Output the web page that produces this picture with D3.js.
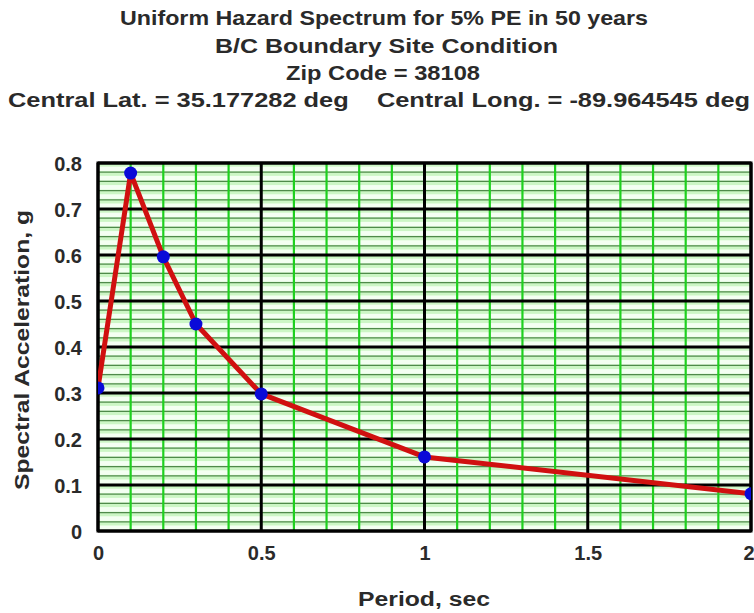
<!DOCTYPE html>
<html><head><meta charset="utf-8">
<script src="https://cdn.jsdelivr.net/npm/d3@7"></script>
<style>body{margin:0;background:#fff}svg{display:block}text{font-family:"Liberation Sans",Arial,sans-serif;font-weight:bold;fill:#2a2a2a;white-space:pre}</style>
</head><body>
<svg id="c" width="754" height="613"></svg>
<script>
const periods = [0, 0.1, 0.2, 0.3, 0.5, 1.0, 2.0];
const accel = [0.311, 0.778, 0.596, 0.45, 0.298, 0.161, 0.081];
const xTicks = [0, 0.5, 1, 1.5, 2];
const yTicks = [0, 0.1, 0.2, 0.3, 0.4, 0.5, 0.6, 0.7, 0.8];
const titleLines = ["Uniform Hazard Spectrum for 5% PE in 50 years", "B/C Boundary Site Condition", "Zip Code = 38108", "Central Lat. = 35.177282 deg    Central Long. = -89.964545 deg"];

const svg = d3.select("#c");
const L = 98, R = 751, T = 163, B = 531;
const x = d3.scaleLinear().domain([0, 2]).range([L, R]);
const y = d3.scaleLinear().domain([0, 0.8]).range([B, T]);

const minorY = d3.range(0, 0.8001, 0.02).map(v => +v.toFixed(2));
const g = svg.append("g");
g.append("rect").attr("x", L).attr("y", T).attr("width", R - L).attr("height", B - T).attr("fill", "#f2fff0");
minorY.slice(0, -1).forEach(v => {
  g.append("rect").attr("x", L).attr("width", R - L)
    .attr("y", y(v + 0.02)).attr("height", y(v) - y(v + 0.02))
    .attr("fill", "#c6f5bd").attr("opacity", 0.85);
  g.append("rect").attr("x", L).attr("width", R - L)
    .attr("y", y(v + 0.012)).attr("height", y(v + 0.002) - y(v + 0.012))
    .attr("fill", "#f4fff2");
});
g.selectAll(".mh").data(minorY.filter(v => Math.round(v * 100) % 10 !== 0)).enter().append("line")
  .attr("x1", L).attr("x2", R).attr("y1", d => y(d)).attr("y2", d => y(d))
  .attr("stroke", "#4f8a4a").attr("stroke-width", 1.2);
const minorX = d3.range(0, 2.0001, 0.1).map(v => +v.toFixed(1)).filter(v => Math.round(v * 10) % 5 !== 0);
g.selectAll(".mv").data(minorX).enter().append("line")
  .attr("x1", d => x(d)).attr("x2", d => x(d)).attr("y1", T).attr("y2", B)
  .attr("stroke", "#1fd01f").attr("stroke-width", 2.2);
g.selectAll(".Mh").data(yTicks).enter().append("line")
  .attr("x1", L).attr("x2", R).attr("y1", d => y(d)).attr("y2", d => y(d))
  .attr("stroke", "#000").attr("stroke-width", 3);
g.selectAll(".Mv").data(xTicks).enter().append("line")
  .attr("x1", d => x(d)).attr("x2", d => x(d)).attr("y1", T).attr("y2", B)
  .attr("stroke", "#000").attr("stroke-width", 3);
g.append("rect").attr("x", L).attr("y", T).attr("width", R - L).attr("height", B - T)
  .attr("fill", "none").attr("stroke", "#000").attr("stroke-width", 3);

const xa = svg.append("g").attr("transform", `translate(0,${B})`)
  .call(d3.axisBottom(x).tickValues(xTicks).tickFormat(d3.format("")).tickSize(0).tickPadding(12));
const ya = svg.append("g").attr("transform", `translate(${L},0)`)
  .call(d3.axisLeft(y).tickValues(yTicks).tickFormat(d => d === 0 ? "0" : d3.format(".1f")(d)).tickSize(0).tickPadding(16));
[xa, ya].forEach(a => { a.select(".domain").remove(); a.selectAll("text").attr("font-size", 20).attr("fill", "#2a2a2a").style("font-family", '"Liberation Sans",Arial,sans-serif').style("font-weight", "bold"); });
xa.selectAll("text").attr("dy", "0.85em").filter(d => d === 2).attr("text-anchor", "end").attr("dx", "0.15em");
ya.selectAll("text").attr("dy", "0.36em");

const clip = svg.append("clipPath").attr("id", "cp").append("rect").attr("x", L).attr("y", T - 20).attr("width", R - L).attr("height", B - T + 20);
svg.append("path").datum(periods.map((p, i) => [p, accel[i]]))
  .attr("d", d3.line().x(d => x(d[0])).y(d => y(d[1])))
  .attr("fill", "none").attr("stroke", "#d01010").attr("stroke-width", 5).attr("stroke-linejoin", "round")
  .attr("clip-path", "url(#cp)");
svg.selectAll(".pt").data(periods.map((p, i) => [p, accel[i]])).enter().append("circle")
  .attr("cx", d => x(d[0])).attr("cy", d => y(d[1])).attr("r", 6.5).attr("fill", "#0a0ad8")
  .attr("clip-path", "url(#cp)");

const tl = [[25, 120, 648], [53, 215, 558], [80, 286, 480], [107, 8, 750]];
titleLines.forEach((t, i) => {
  svg.append("text").attr("x", tl[i][1]).attr("y", tl[i][0]).attr("font-size", 21)
    .attr("textLength", tl[i][2] - tl[i][1]).attr("lengthAdjust", "spacingAndGlyphs").text(t);
});
svg.append("text").attr("x", 358).attr("y", 606).attr("font-size", 20)
  .attr("textLength", 132).attr("lengthAdjust", "spacingAndGlyphs").text("Period, sec");
svg.append("text").attr("transform", "translate(29,350) rotate(-90)").attr("x", -140).attr("font-size", 20)
  .attr("textLength", 280).attr("lengthAdjust", "spacingAndGlyphs").text("Spectral Acceleration, g");
</script>
</body></html>
